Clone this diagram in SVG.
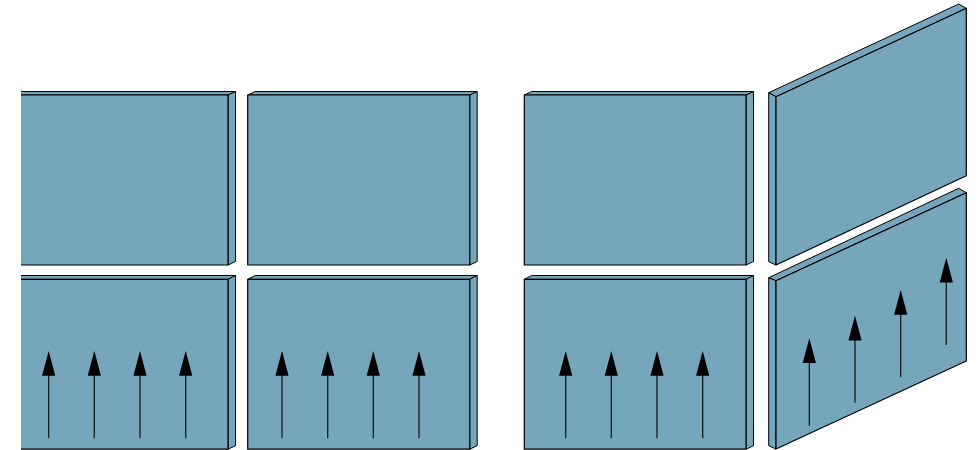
<svg xmlns="http://www.w3.org/2000/svg" xmlns:xlink="http://www.w3.org/1999/xlink" width="980" height="450" viewBox="0 0 980 450">
<style>
.f{fill:#75a6bc;stroke:#000;stroke-width:1.2;stroke-linejoin:round}
.s{fill:#75a6bc;stroke:#000;stroke-width:1;stroke-linejoin:round}
.al{stroke:#1a1a1a;stroke-width:1.3;fill:none}
.ah{fill:#000}
</style>
<defs>
<clipPath id="clipL"><rect x="21" y="0" width="959" height="450"/></clipPath>
<path id="head" d="M0,0 L6.6,24.8 L-6.6,24.8 Z"/>
</defs>
<rect width="980" height="450" fill="#fff"/>
<g id="panel-1-top" clip-path="url(#clipL)">
<polygon class="s" points="6,95 228,95 235.5,91.5 13.5,91.5"/>
<polygon class="s" points="228,95 235.5,91.5 235.5,261.5 228,265"/>
<rect class="f" x="6" y="95" width="222" height="170"/>
</g>
<g id="panel-1-bottom" clip-path="url(#clipL)">
<polygon class="s" points="6,279.3 228,279.3 235.5,275.5 13.5,275.5"/>
<polygon class="s" points="228,279.3 235.5,275.5 235.5,445.7 228,449.2"/>
<rect class="f" x="6" y="279.3" width="222" height="169.9"/>
</g>
<g id="panel-2-top">
<polygon class="s" points="247.7,95 469.7,95 477.2,91.5 255.2,91.5"/>
<polygon class="s" points="469.7,95 477.2,91.5 477.2,261.5 469.7,265"/>
<rect class="f" x="247.7" y="95" width="222" height="170"/>
</g>
<g id="panel-2-bottom">
<polygon class="s" points="247.7,279.3 469.7,279.3 477.2,275.5 255.2,275.5"/>
<polygon class="s" points="469.7,279.3 477.2,275.5 477.2,445.7 469.7,449.2"/>
<rect class="f" x="247.7" y="279.3" width="222" height="169.9"/>
</g>
<g id="panel-3-top">
<polygon class="s" points="524.3,95 746,95 753.5,91.5 531.8,91.5"/>
<polygon class="s" points="746,95 753.5,91.5 753.5,261.5 746,265"/>
<rect class="f" x="524.3" y="95" width="221.7" height="170"/>
</g>
<g id="panel-3-bottom">
<polygon class="s" points="524.3,279.3 746,279.3 753.5,275.5 531.8,275.5"/>
<polygon class="s" points="746,279.3 753.5,275.5 753.5,445.7 746,449.2"/>
<rect class="f" x="524.3" y="279.3" width="221.7" height="169.9"/>
</g>
<g id="panel-4-top">
<polygon class="s" points="768.7,92.7 958.7,4 966.3,8.3 776,96.7"/>
<polygon class="s" points="768.7,92.7 776,96.7 776,265 768.7,261.7"/>
<polygon class="f" points="776,96.7 966.3,8.3 966.3,175.7 776,265"/>
</g>
<g id="panel-4-bottom">
<polygon class="s" points="768.7,277.7 958.7,188.3 966.3,192.7 776,280.7"/>
<polygon class="s" points="768.7,277.7 776,280.7 776,449 768.7,445.7"/>
<polygon class="f" points="776,280.7 966.3,192.7 966.3,361 776,449"/>
</g>
<g id="arrows">
<g class="al">
<line x1="48.7" y1="375" x2="48.7" y2="438.3"/>
<line x1="94.3" y1="375" x2="94.3" y2="438.3"/>
<line x1="140" y1="375" x2="140" y2="438.3"/>
<line x1="185.7" y1="375" x2="185.7" y2="438.3"/>
<line x1="282" y1="375" x2="282" y2="438.3"/>
<line x1="327.7" y1="375" x2="327.7" y2="438.3"/>
<line x1="373.3" y1="375" x2="373.3" y2="438.3"/>
<line x1="419" y1="375" x2="419" y2="438.3"/>
<line x1="565.7" y1="375" x2="565.7" y2="438.3"/>
<line x1="611.3" y1="375" x2="611.3" y2="438.3"/>
<line x1="657" y1="375" x2="657" y2="438.3"/>
<line x1="702.7" y1="375" x2="702.7" y2="438.3"/>
<line x1="809.3" y1="362" x2="809.3" y2="425.7"/>
<line x1="855" y1="339.5" x2="855" y2="402.7"/>
<line x1="900.7" y1="313.5" x2="900.7" y2="377.3"/>
<line x1="946.3" y1="281.5" x2="946.3" y2="345"/>
</g>
<g class="ah">
<use xlink:href="#head" x="48.7" y="351"/>
<use xlink:href="#head" x="94.3" y="351"/>
<use xlink:href="#head" x="140" y="351"/>
<use xlink:href="#head" x="185.7" y="351"/>
<use xlink:href="#head" x="282" y="351"/>
<use xlink:href="#head" x="327.7" y="351"/>
<use xlink:href="#head" x="373.3" y="351"/>
<use xlink:href="#head" x="419" y="351"/>
<use xlink:href="#head" x="565.7" y="351"/>
<use xlink:href="#head" x="611.3" y="351"/>
<use xlink:href="#head" x="657" y="351"/>
<use xlink:href="#head" x="702.7" y="351"/>
<use xlink:href="#head" x="809.3" y="338.3"/>
<use xlink:href="#head" x="855" y="315.7"/>
<use xlink:href="#head" x="900.7" y="290"/>
<use xlink:href="#head" x="946.3" y="257.7"/>
</g>
</g>
</svg>
